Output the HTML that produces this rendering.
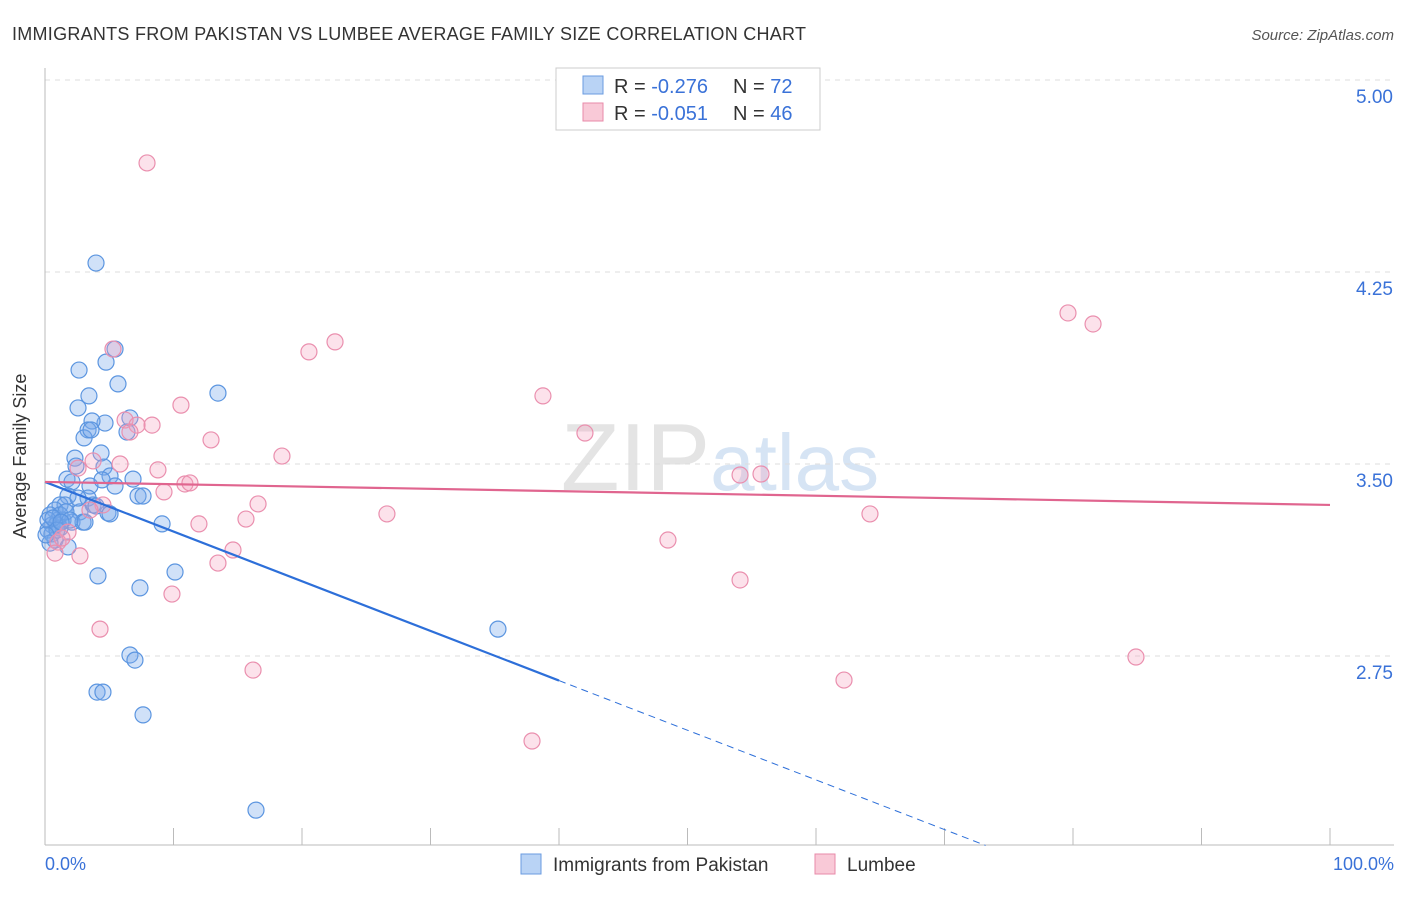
<!DOCTYPE html>
<html><head><meta charset="utf-8"><style>
body{margin:0;background:#fff;font-family:"Liberation Sans",sans-serif}
svg text{font-family:"Liberation Sans",sans-serif}
</style></head><body>
<svg id="c" width="1406" height="892" xmlns="http://www.w3.org/2000/svg">
<text x="12" y="40" font-size="18" fill="#333" textLength="794">IMMIGRANTS FROM PAKISTAN VS LUMBEE AVERAGE FAMILY SIZE CORRELATION CHART</text>
<text x="1394" y="40" font-size="15" fill="#555" font-style="italic" text-anchor="end">Source: ZipAtlas.com</text>
<text x="720" y="490" font-size="96" fill="#e4e4e4" text-anchor="middle" font-family="Liberation Serif">ZIP<tspan fill="#d6e4f4" font-family="Liberation Sans" font-size="80">atlas</tspan></text>
<g id="grid"></g><g id="axes"></g><g id="pts"></g><g id="lines"></g>
<text x="26" y="456" font-size="18" fill="#333" text-anchor="middle" transform="rotate(-90 26 456)">Average Family Size</text>
<text x="45" y="870" font-size="18" fill="#3a72d8">0.0%</text>
<text x="1394" y="870" font-size="18" fill="#3a72d8" text-anchor="end">100.0%</text>
<g>
<rect x="556" y="68" width="264" height="62" fill="#fff" stroke="#ccc"/>
<rect x="583" y="76" width="20" height="18" fill="#b9d3f5" stroke="#6a9be0"/>
<rect x="583" y="103" width="20" height="18" fill="#f9c9d7" stroke="#e88aa8"/>
<text x="614" y="93" font-size="20" fill="#333">R = <tspan fill="#3a72d8">-0.276</tspan></text>
<text x="733" y="93" font-size="20" fill="#333">N = <tspan fill="#3a72d8">72</tspan></text>
<text x="614" y="120" font-size="20" fill="#333">R = <tspan fill="#3a72d8">-0.051</tspan></text>
<text x="733" y="120" font-size="20" fill="#333">N = <tspan fill="#3a72d8">46</tspan></text>
</g>
<g>
<rect x="521" y="854" width="20" height="20" fill="#b9d3f5" stroke="#6a9be0"/>
<text x="553" y="871" font-size="19" fill="#333">Immigrants from Pakistan</text>
<rect x="815" y="854" width="20" height="20" fill="#f9c9d7" stroke="#e88aa8"/>
<text x="847" y="871" font-size="19" fill="#333">Lumbee</text>
</g>
</svg>
<script>
const yTicks=[5.00,4.25,3.50,2.75];
const xTickPct=[0,10,20,30,40,50,60,70,80,90,100];
const bluePx=[[96,263],[79,370],[106,362],[115,349],[118,384],[89,396],[78,408],[218,393],[130,418],[105,423],[92,421],[88,430],[84,438],[127,432],[91,430],[101,453],[75,458],[104,467],[76,466],[110,476],[67,479],[133,479],[90,486],[115,486],[72,482],[68,496],[88,498],[138,496],[143,496],[60,505],[65,505],[93,505],[55,510],[80,512],[108,513],[50,515],[58,520],[63,520],[72,522],[83,522],[52,525],[56,525],[60,528],[162,524],[48,530],[52,534],[55,540],[68,547],[50,543],[98,576],[175,572],[140,588],[498,629],[130,655],[135,660],[97,692],[103,692],[143,715],[256,810],[60,515],[66,512],[70,520],[48,520],[53,518],[57,530],[61,522],[85,522],[46,535],[110,514],[78,498],[102,480],[96,506]];
const pinkPx=[[147,163],[1068,313],[1093,324],[335,342],[309,352],[113,349],[543,396],[181,405],[125,420],[152,425],[137,425],[130,432],[585,433],[211,440],[282,456],[93,461],[120,464],[158,470],[78,468],[740,475],[761,474],[185,484],[190,483],[164,492],[103,505],[258,504],[387,514],[870,514],[246,519],[199,524],[68,532],[58,542],[80,556],[55,553],[233,550],[668,540],[218,563],[172,594],[740,580],[100,629],[253,670],[1136,657],[844,680],[532,741],[62,538],[90,510]];
const blueX=bluePx.map(p=>+((p[0]-45)/12.85).toFixed(2));
const blueY=bluePx.map(p=>+(5-(p[1]-80)/256).toFixed(3));
const pinkX=pinkPx.map(p=>+((p[0]-45)/12.85).toFixed(2));
const pinkY=pinkPx.map(p=>+(5-(p[1]-80)/256).toFixed(3));
const blueTrend=[3.43,-0.0194];
const pinkTrend=[3.43,-0.0009];
const X=v=>45+v*12.85, Y=v=>80+(5-v)*256;
const NS="http://www.w3.org/2000/svg";
function mk(t,a,p){const e=document.createElementNS(NS,t);for(const k in a)e.setAttribute(k,a[k]);document.getElementById(p).appendChild(e);return e;}
yTicks.forEach(v=>{
 const l=mk('line',{x1:45,x2:1394,y1:Y(v),y2:Y(v),stroke:'#ddd','stroke-dasharray':'5,5'},'grid');
 
 
 const t=mk('text',{x:1393,y:Y(v)+23,'font-size':19,fill:'#3a72d8','text-anchor':'end'},'grid');
 t.textContent=v.toFixed(2);
 
 
});
const ax=mk('line',{x1:45,x2:45,y1:68,y2:845,stroke:'#bbb'},'axes');


const bx=mk('line',{x1:45,x2:1394,y1:845,y2:845,stroke:'#bbb'},'axes');


xTickPct.forEach(p=>{
 const t=mk('line',{x1:X(p),x2:X(p),y1:828,y2:845,stroke:'#bbb'},'axes');
 
 
});
blueX.forEach((x,i)=>{
 const c=mk('circle',{cx:X(x),cy:Y(blueY[i]),r:8,fill:'rgba(120,170,235,0.35)',stroke:'#5b95e0','stroke-width':1.2},'pts');
 
 
});
pinkX.forEach((x,i)=>{
 const c=mk('circle',{cx:X(x),cy:Y(pinkY[i]),r:8,fill:'rgba(245,160,190,0.3)',stroke:'#ea8fae','stroke-width':1.2},'pts');
 
 
});
const bf=x=>blueTrend[0]+blueTrend[1]*x, pf=x=>pinkTrend[0]+pinkTrend[1]*x;
const b1=mk('line',{x1:X(0),y1:Y(bf(0)),x2:X(40),y2:Y(bf(40)),stroke:'#2d6fd9','stroke-width':2.2},'lines');


const xe=(2.01-blueTrend[0])/blueTrend[1];
const b2=mk('line',{x1:X(40),y1:Y(bf(40)),x2:X(xe),y2:Y(bf(xe)),stroke:'#2d6fd9','stroke-width':1,'stroke-dasharray':'7,5'},'lines');


const p1=mk('line',{x1:X(0),y1:Y(pf(0)),x2:X(100),y2:Y(pf(100)),stroke:'#e0658f','stroke-width':2.2},'lines');


</script>
</body></html>
